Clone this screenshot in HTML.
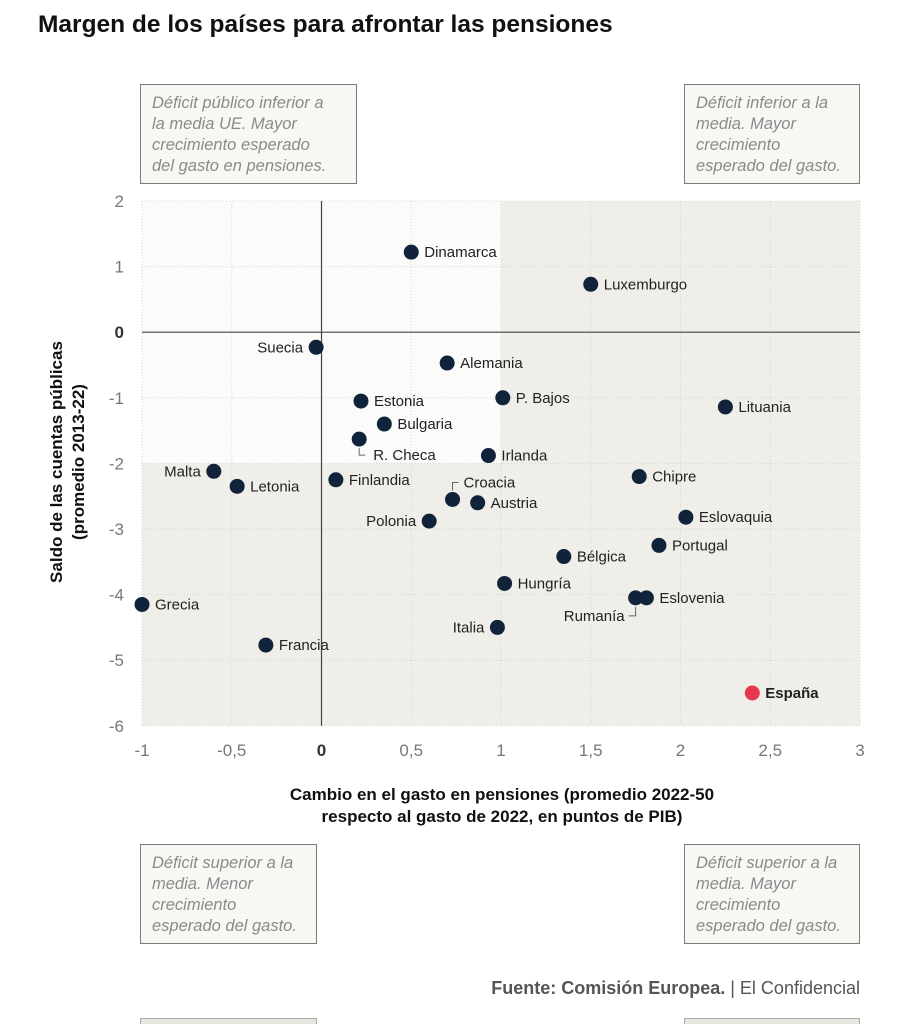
<!DOCTYPE html>
<html><head><meta charset="utf-8"><style>
body{margin:0;background:#fff;font-family:"Liberation Sans",sans-serif;}
#wrap{position:relative;width:898px;height:1024px;overflow:hidden;}
.title{position:absolute;left:38px;top:11px;font-size:24.5px;font-weight:bold;color:#111;}
.note{position:absolute;box-sizing:border-box;border:1.5px solid #7a7a7a;background:#f8f7f4;color:#8a8a8a;font-style:italic;font-size:16.5px;line-height:21px;padding:8px 11px;white-space:nowrap;}
.src{position:absolute;right:38px;top:978px;font-size:18px;color:#555;}
</style></head><body>
<div id="wrap">
<div class="title">Margen de los países para afrontar las pensiones</div>
<div class="note" style="left:140px;top:84px;width:217px;height:100px">Déficit público inferior a<br>la media UE. Mayor<br>crecimiento esperado<br>del gasto en pensiones.</div>
<div class="note" style="left:684px;top:84px;width:176px;height:100px">Déficit inferior a la<br>media. Mayor<br>crecimiento<br>esperado del gasto.</div>
<div class="note" style="left:140px;top:844px;width:177px;height:100px">Déficit superior a la<br>media. Menor<br>crecimiento<br>esperado del gasto.</div>
<div class="note" style="left:684px;top:844px;width:176px;height:100px">Déficit superior a la<br>media. Mayor<br>crecimiento<br>esperado del gasto.</div>
<div class="note" style="left:140px;top:1018px;width:177px;height:20px;background:#e6e5e0;border-color:#aaa"></div>
<div class="note" style="left:684px;top:1018px;width:176px;height:20px;background:#e6e5e0;border-color:#aaa"></div>
<div class="src"><b style="color:#555">Fuente: Comisión Europea.</b> | El Confidencial</div>
<svg id="chart" width="898" height="1024" style="position:absolute;left:0;top:0"></svg>
</div>
<script>
const countries=["Dinamarca","Luxemburgo","Suecia","Alemania","Estonia","P. Bajos","Lituania","Bulgaria","R. Checa","Irlanda","Malta","Letonia","Finlandia","Chipre","Croacia","Austria","Polonia","Eslovaquia","Portugal","Bélgica","Hungría","Rumanía","Eslovenia","Grecia","Italia","Francia","España"];
const pensionChange=[0.5,1.5,-0.03,0.7,0.22,1.01,2.25,0.35,0.21,0.93,-0.6,-0.47,0.08,1.77,0.73,0.87,0.6,2.03,1.88,1.35,1.02,1.75,1.81,-1.0,0.98,-0.31,2.4];
const balance=[1.22,0.73,-0.23,-0.47,-1.05,-1.0,-1.14,-1.4,-1.63,-1.88,-2.12,-2.35,-2.25,-2.2,-2.55,-2.6,-2.88,-2.82,-3.25,-3.42,-3.83,-4.05,-4.05,-4.15,-4.5,-4.77,-5.5];
const xTicks=[-1,-0.5,0,0.5,1,1.5,2,2.5,3];
const yTicks=[2,1,0,-1,-2,-3,-4,-5,-6];
const X=v=>142+(v+1)*179.5;
const Y=v=>201+(2-v)*65.6;
const NS="http://www.w3.org/2000/svg";
const svg=document.getElementById('chart');
function mk(t,a){const e=document.createElementNS(NS,t);for(const k in a)e.setAttribute(k,a[k]);svg.appendChild(e);return e;}
let e;
e=mk('rect',{x:X(-1),y:Y(2),width:X(3)-X(-1),height:Y(-6)-Y(2),fill:'#efeee9'});


e=mk('rect',{x:X(-1),y:Y(2),width:X(1)-X(-1),height:Y(-2)-Y(2),fill:'#fbfbf9'});


xTicks.forEach(t=>{
 e=mk('line',{x1:X(t),x2:X(t),y1:Y(2),y2:Y(-6),stroke:'#d6d6d2','stroke-dasharray':'1,2'});
 
 
 e=mk('text',{x:X(t),y:756,'text-anchor':'middle','font-size':17,fill:t===0?'#333':'#777','font-weight':t===0?'bold':'normal'});
 e.textContent=String(t).replace('.',',');
 
 
});
yTicks.forEach(t=>{
 e=mk('line',{x1:X(-1),x2:X(3),y1:Y(t),y2:Y(t),stroke:'#d6d6d2','stroke-dasharray':'1,2'});
 
 
 e=mk('text',{x:124,y:Y(t)+6,'text-anchor':'end','font-size':17,fill:t===0?'#333':'#777','font-weight':t===0?'bold':'normal'});
 e.textContent=String(t);
 
 
});
e=mk('line',{x1:X(0),x2:X(0),y1:Y(2),y2:Y(-6),stroke:'#444','stroke-width':1.2});


e=mk('line',{x1:X(-1),x2:X(3),y1:Y(0),y2:Y(0),stroke:'#444','stroke-width':1.2});


const leftLabels=["Suecia","Malta","Polonia","Italia"];
countries.forEach((c,i)=>{
 const cx=X(pensionChange[i]),cy=Y(balance[i]);
 const sp=c==="España";
 e=mk('circle',{cx:cx,cy:cy,r:7.5,fill:sp?'#e8384f':'#10233a'});
 
 
 let tx=cx+13,ty=cy+5,anchor='start';
 if(leftLabels.includes(c)){tx=cx-13;anchor='end';}
 if(c==="R. Checa"){tx=cx+14;ty=cy+21;mk('path',{d:`M${cx} ${cy+9}V${cy+16}h6`,stroke:'#666',fill:'none'});}
 if(c==="Croacia"){tx=cx+11;ty=cy-12;mk('path',{d:`M${cx} ${cy-9}V${cy-17}h6`,stroke:'#666',fill:'none'});}
 if(c==="Rumanía"){tx=cx-11;ty=cy+23;anchor='end';mk('path',{d:`M${cx} ${cy+9}V${cy+18}h-7`,stroke:'#666',fill:'none'});}
 e=mk('text',{x:tx,y:ty,'text-anchor':anchor,'font-size':15,fill:'#222','font-weight':sp?'bold':'normal'});
 e.textContent=c;
 
 
});
e=mk('text',{x:502,y:800,'text-anchor':'middle','font-size':17,'font-weight':'bold',fill:'#111'});
e.textContent='Cambio en el gasto en pensiones (promedio 2022-50';


e=mk('text',{x:502,y:822,'text-anchor':'middle','font-size':17,'font-weight':'bold',fill:'#111'});
e.textContent='respecto al gasto de 2022, en puntos de PIB)';


e=mk('text',{x:0,y:0,'text-anchor':'middle','font-size':17,'font-weight':'bold',fill:'#111',transform:'translate(62,462) rotate(-90)'});
e.textContent='Saldo de las cuentas públicas';


e=mk('text',{x:0,y:0,'text-anchor':'middle','font-size':17,'font-weight':'bold',fill:'#111',transform:'translate(84,462) rotate(-90)'});
e.textContent='(promedio 2013-22)';


</script>
</body></html>
